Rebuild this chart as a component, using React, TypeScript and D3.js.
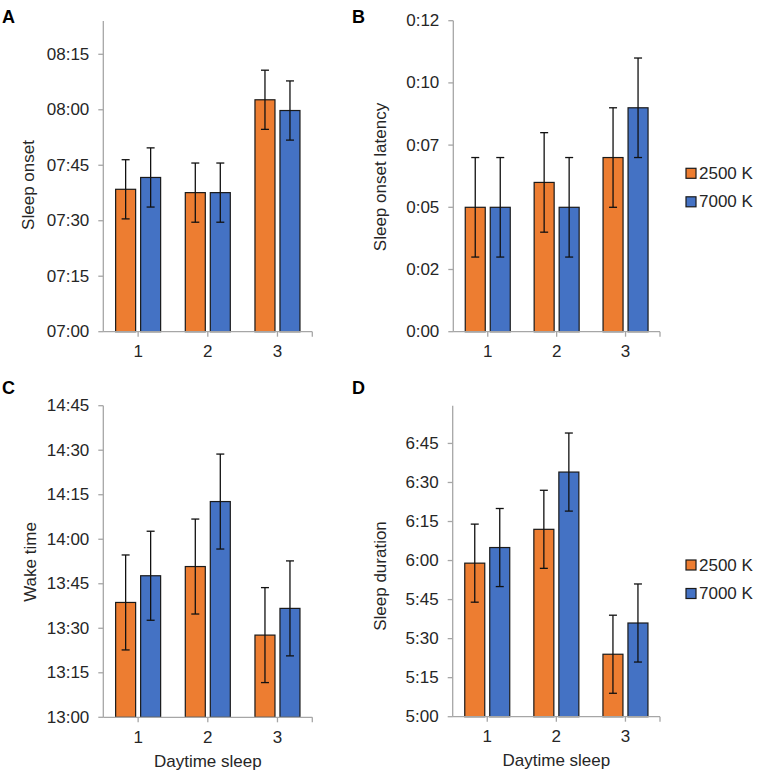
import React from 'react';
import * as d3 from 'd3';

const categories = ['1', '2', '3'];
const seriesNames = ['2500 K', '7000 K'];
const seriesColors = ['#ED7D31', '#4472C4'];

// A: sleep onset (minutes since midnight)
const onset2500 = [458.5, 457.6, 482.7];
const onset7000 = [461.7, 457.6, 479.8];
const onsetErr2500 = [8, 8, 8];
const onsetErr7000 = [8, 8, 8];
const onsetTicks = [420, 435, 450, 465, 480, 495];
const onsetTickLabels = ['07:00', '07:15', '07:30', '07:45', '08:00', '08:15'];

// B: sleep onset latency (minutes)
const latency2500 = [5, 6, 7];
const latency7000 = [5, 5, 9];
const latencyErr2500 = [2, 2, 2];
const latencyErr7000 = [2, 2, 2];
const latencyTicks = [0, 2.5, 5, 7.5, 10, 12.5];
const latencyTickLabels = ['0:00', '0:02', '0:05', '0:07', '0:10', '0:12'];

// C: wake time (minutes since midnight)
const wake2500 = [818.7, 830.8, 807.7];
const wake7000 = [827.7, 852.7, 816.7];
const wakeErr2500 = [16, 16, 16];
const wakeErr7000 = [15, 16, 16];
const wakeTicks = [780, 795, 810, 825, 840, 855, 870, 885];
const wakeTickLabels = ['13:00', '13:15', '13:30', '13:45', '14:00', '14:15', '14:30', '14:45'];

// D: sleep duration (minutes)
const duration2500 = [359, 372, 324];
const duration7000 = [365, 394, 336];
const durationErr2500 = [15, 15, 15];
const durationErr7000 = [15, 15, 15];
const durationTicks = [300, 315, 330, 345, 360, 375, 390, 405];
const durationTickLabels = ['5:00', '5:15', '5:30', '5:45', '6:00', '6:15', '6:30', '6:45'];

const FONT = '"Liberation Sans", Arial, Helvetica, sans-serif';
const TEXT = '#262626';
const AXIS = '#a6a6a6';

type PanelProps = {
  x0: number; x1: number; yTop: number; yBottom: number;
  domain: [number, number];
  ticks: number[]; tickLabels: string[];
  values: number[][]; errors: number[][];
  title: string; titleX: number; titleY: number;
  letter: string; letterX: number; letterY: number;
  legend?: { x: number; y: number };
  xTitle?: string;
};

function Panel(p: PanelProps) {
  const x = d3.scaleBand<string>().domain(categories).range([p.x0, p.x1]).paddingInner(0).paddingOuter(0);
  const y = d3.scaleLinear().domain(p.domain).range([p.yBottom, p.yTop]);
  const inner = d3.scaleBand<string>().domain(seriesNames).range([-22.5, 22.5]).paddingInner(0.2).paddingOuter(0);
  const bw = x.bandwidth();
  return (
    <g>
      <text x={p.letterX} y={p.letterY} fontFamily={FONT} fontWeight="bold" fontSize={18} fill="#000">{p.letter}</text>
      {/* bars */}
      {seriesNames.map((s, si) => (
        <g key={s}>
          {categories.map((c, ci) => {
            const cx = (x(c) as number) + bw / 2;
            const bx = cx + (inner(s) as number);
            const v = p.values[si][ci];
            return (
              <rect key={c} x={bx} y={y(v)} width={inner.bandwidth()} height={p.yBottom - y(v)}
                fill={seriesColors[si]} stroke="#1a1a1a" strokeWidth={1.2} />
            );
          })}
        </g>
      ))}
      {/* error bars */}
      {seriesNames.map((s, si) => (
        <g key={'e' + s} stroke="#111" strokeWidth={1.3}>
          {categories.map((c, ci) => {
            const cx = (x(c) as number) + bw / 2 + (inner(s) as number) + inner.bandwidth() / 2;
            const v = p.values[si][ci];
            const e = p.errors[si][ci];
            return (
              <g key={c}>
                <line x1={cx} x2={cx} y1={y(v + e)} y2={y(v - e)} />
                <line x1={cx - 4} x2={cx + 4} y1={y(v + e)} y2={y(v + e)} />
                <line x1={cx - 4} x2={cx + 4} y1={y(v - e)} y2={y(v - e)} />
              </g>
            );
          })}
        </g>
      ))}
      {/* y axis */}
      <line x1={p.x0} x2={p.x0} y1={p.yTop} y2={p.yBottom} stroke={AXIS} strokeWidth={1.3} />
      {p.ticks.map((t, i) => (
        <g key={t}>
          <line x1={p.x0 - 5} x2={p.x0} y1={y(t)} y2={y(t)} stroke={AXIS} strokeWidth={1.3} />
          <text x={p.x0 - 14} y={y(t)} textAnchor="end" dominantBaseline="central"
            fontFamily={FONT} fontSize={17} fill={TEXT}>{p.tickLabels[i]}</text>
        </g>
      ))}
      {/* x axis */}
      <line x1={p.x0} x2={p.x1} y1={p.yBottom} y2={p.yBottom} stroke={AXIS} strokeWidth={1.3} />
      {categories.map((c) => {
        const cx = (x(c) as number) + bw / 2;
        return (
          <g key={c}>
            <line x1={cx} x2={cx} y1={p.yBottom} y2={p.yBottom + 5} stroke={AXIS} strokeWidth={1.3} />
            <text x={cx} y={p.yBottom + 20} textAnchor="middle" dominantBaseline="central"
              fontFamily={FONT} fontSize={17} fill={TEXT}>{c}</text>
          </g>
        );
      })}
      <line x1={p.x1} x2={p.x1} y1={p.yBottom} y2={p.yBottom + 5} stroke={AXIS} strokeWidth={1.3} />
      {/* titles */}
      <text transform={`translate(${p.titleX},${p.titleY}) rotate(-90)`} textAnchor="middle" dominantBaseline="central"
        fontFamily={FONT} fontSize={17} fill={TEXT}>{p.title}</text>
      {p.xTitle && (
        <text x={(p.x0 + p.x1) / 2} y={p.yBottom + 44} textAnchor="middle" dominantBaseline="central"
          fontFamily={FONT} fontSize={17} fill={TEXT}>{p.xTitle}</text>
      )}
      {p.legend && seriesNames.map((s, si) => (
        <g key={'l' + s}>
          <rect x={p.legend!.x} y={p.legend!.y + si * 28.5 - 5} width={10} height={10}
            fill={seriesColors[si]} stroke="#1a1a1a" strokeWidth={1.2} />
          <text x={p.legend!.x + 13} y={p.legend!.y + si * 28.5} dominantBaseline="central"
            fontFamily={FONT} fontSize={17} fill={TEXT}>{s}</text>
        </g>
      ))}
    </g>
  );
}

export default function App() {
  return (
    <svg width={761} height={776} style={{ position: 'absolute', left: 0, top: 0, background: '#fff' }}>
      <rect width={761} height={776} fill="#fff" />
      <Panel x0={103.3} x1={312.3} yTop={21} yBottom={331.7} domain={[420, 504]}
        ticks={onsetTicks} tickLabels={onsetTickLabels}
        values={[onset2500, onset7000]} errors={[onsetErr2500, onsetErr7000]}
        title="Sleep onset" titleX={28.5} titleY={185}
        letter="A" letterX={2} letterY={23} />
      <Panel x0={453.3} x1={660} yTop={20.7} yBottom={331.7} domain={[0, 12.5]}
        ticks={latencyTicks} tickLabels={latencyTickLabels}
        values={[latency2500, latency7000]} errors={[latencyErr2500, latencyErr7000]}
        title="Sleep onset latency" titleX={380} titleY={177}
        letter="B" letterX={352} letterY={23} legend={{ x: 686, y: 173.3 }} />
      <Panel x0={103.3} x1={312.3} yTop={405.7} yBottom={717.3} domain={[780, 885]}
        ticks={wakeTicks} tickLabels={wakeTickLabels}
        values={[wake2500, wake7000]} errors={[wakeErr2500, wakeErr7000]}
        title="Wake time" titleX={30} titleY={562}
        letter="C" letterX={2} letterY={394} xTitle="Daytime sleep" />
      <Panel x0={452.7} x1={660} yTop={405.7} yBottom={716.7} domain={[300, 419.5]}
        ticks={durationTicks} tickLabels={durationTickLabels}
        values={[duration2500, duration7000]} errors={[durationErr2500, durationErr7000]}
        title="Sleep duration" titleX={380} titleY={576}
        letter="D" letterX={352} letterY={394} legend={{ x: 686, y: 565 }} xTitle="Daytime sleep" />
    </svg>
  );
}
